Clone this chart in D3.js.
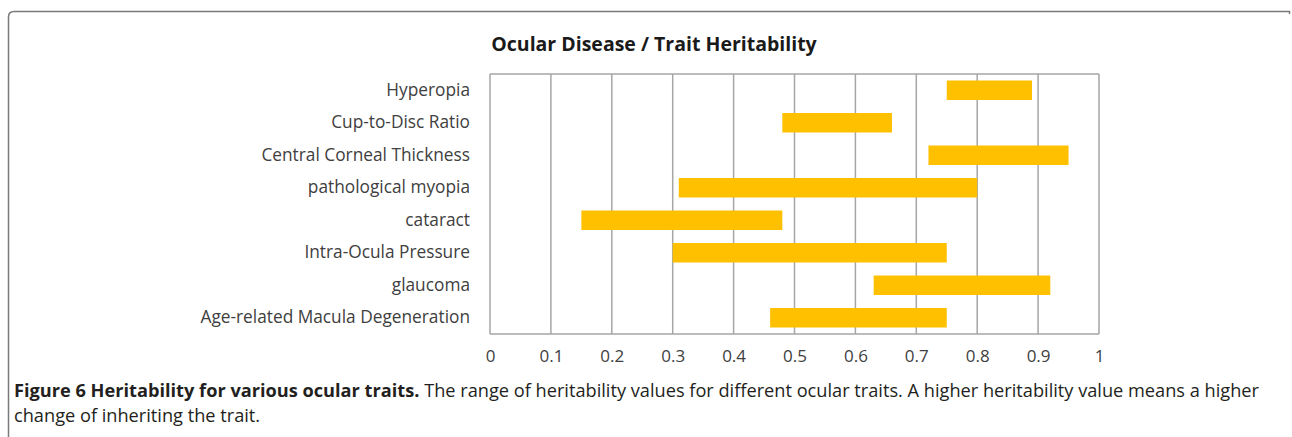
<!DOCTYPE html>
<html>
<head>
<meta charset="utf-8">
<script src="https://cdn.jsdelivr.net/npm/d3@7"></script>
<style>
  body { margin: 0; background: #fff; }
  svg { display: block; }
</style>
</head>
<body>
<div id="chart"></div>
<script>
// trait names, top to bottom
var traits = ["Hyperopia", "Cup-to-Disc Ratio", "Central Corneal Thickness", "pathological myopia",
  "cataract", "Intra-Ocula Pressure", "glaucoma", "Age-related Macula Degeneration"];
// heritability range (low / high) per trait
var lowValues = [0.75, 0.48, 0.72, 0.31, 0.15, 0.30, 0.63, 0.46];
var highValues = [0.89, 0.66, 0.95, 0.80, 0.48, 0.75, 0.92, 0.75];
var xTicks = [0, 0.1, 0.2, 0.3, 0.4, 0.5, 0.6, 0.7, 0.8, 0.9, 1];

var chartTitle = "Ocular Disease / Trait Heritability";
var captionBold = "Figure 6 Heritability for various ocular traits.";
var captionLine1 = " The range of heritability values for different ocular traits. A higher heritability value means a higher";
var captionLine2 = "change of inheriting the trait.";

var W = 1292, H = 437;
var margin = {top: 74, right: 193, bottom: 103, left: 490};
var width = W - margin.left - margin.right;
var height = H - margin.top - margin.bottom;

var svg = d3.select("#chart").append("svg")
  .attr("width", W)
  .attr("height", H);

// figure frame (rounded top-left corner, open at bottom)
svg.append("path")
  .attr("d", "M8.5," + H + " V17 Q8.5,11.5 14,11.5 H1289.5 V14")
  .attr("fill", "none")
  .attr("stroke", "#7a7a7a")
  .attr("stroke-width", 1.5);

var g = svg.append("g")
  .attr("transform", "translate(" + margin.left + "," + margin.top + ")");

var x = d3.scaleLinear().domain([0, 1]).range([0, width]);
var y = d3.scaleBand().domain(traits).range([0, height]).paddingInner(0.4).paddingOuter(0.2);

// vertical grid lines
g.append("g")
  .selectAll("line")
  .data(xTicks)
  .enter().append("line")
  .attr("x1", function(d) { return x(d); })
  .attr("x2", function(d) { return x(d); })
  .attr("y1", 0)
  .attr("y2", height)
  .attr("stroke", "#a6a6a6")
  .attr("stroke-width", 1.5);

g.append("line")
  .attr("x1", 0).attr("x2", width)
  .attr("y1", 0).attr("y2", 0)
  .attr("stroke", "#a6a6a6").attr("stroke-width", 1.5);
g.append("line")
  .attr("x1", 0).attr("x2", width)
  .attr("y1", height).attr("y2", height)
  .attr("stroke", "#a6a6a6").attr("stroke-width", 1.5);

// range bars
g.selectAll("rect.bar")
  .data(traits)
  .enter().append("rect")
  .attr("class", "bar")
  .attr("x", function(d, i) { return x(lowValues[i]); })
  .attr("y", function(d) { return y(d); })
  .attr("width", function(d, i) { return x(highValues[i]) - x(lowValues[i]); })
  .attr("height", y.bandwidth())
  .attr("fill", "#ffc000");

// axes
var yAxis = d3.axisLeft(y).tickSize(0).tickPadding(20);
g.append("g")
  .attr("class", "y axis")
  .call(yAxis)
  .call(function(s) { s.select(".domain").remove(); })
  .selectAll("text")
  .attr("font-family", "'Open Sans', sans-serif")
  .attr("font-size", "17.3px")
  .attr("fill", "#404040");

var xAxis = d3.axisBottom(x).tickValues(xTicks).tickSize(0).tickPadding(16)
  .tickFormat(function(d) { return d; });
g.append("g")
  .attr("class", "x axis")
  .attr("transform", "translate(0," + height + ")")
  .call(xAxis)
  .call(function(s) { s.select(".domain").remove(); })
  .selectAll("text")
  .attr("font-family", "'Open Sans', sans-serif")
  .attr("font-size", "17px")
  .attr("fill", "#404040");

// title
svg.append("text")
  .attr("x", 654)
  .attr("y", 51)
  .attr("text-anchor", "middle")
  .attr("font-family", "'Open Sans', sans-serif")
  .attr("font-weight", "bold")
  .attr("font-size", "19.5px")
  .attr("fill", "#1a1a1a")
  .text(chartTitle);

// caption
var cap = svg.append("text")
  .attr("x", 14)
  .attr("y", 397)
  .attr("font-family", "'Open Sans', sans-serif")
  .attr("font-size", "18.2px")
  .attr("fill", "#231f20");
cap.append("tspan").attr("font-weight", "bold").text(captionBold);
cap.append("tspan").text(captionLine1);

svg.append("text")
  .attr("x", 14)
  .attr("y", 422)
  .attr("font-family", "'Open Sans', sans-serif")
  .attr("font-size", "18.2px")
  .attr("fill", "#231f20")
  .text(captionLine2);
</script>
</body>
</html>
